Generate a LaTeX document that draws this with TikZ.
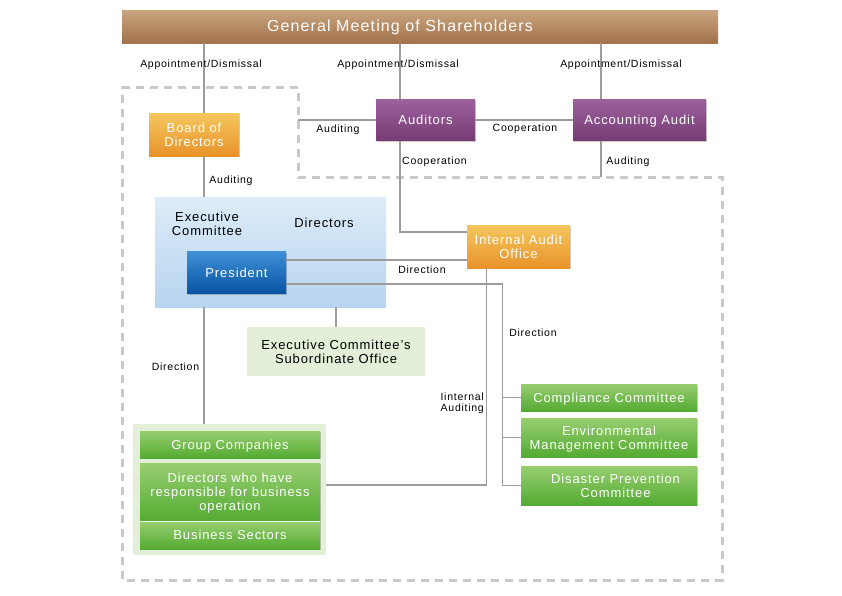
\documentclass[tikz,border=0pt]{standalone}
\usepackage{fontspec}
\setmainfont{Liberation Sans}[LetterSpace=7]
\usetikzlibrary{calc,positioning,shadows}

\definecolor{brownT}{HTML}{C9A47F}
\definecolor{brownB}{HTML}{A2734C}
\definecolor{orangeT}{HTML}{F4C75E}
\definecolor{orangeB}{HTML}{E8932A}
\definecolor{purpleT}{HTML}{9C619D}
\definecolor{purpleB}{HTML}{773C75}
\definecolor{skyT}{HTML}{DDECF9}
\definecolor{skyB}{HTML}{B7D4EE}
\definecolor{blueT}{HTML}{3F90D6}
\definecolor{blueB}{HTML}{0853A4}
\definecolor{greenT}{HTML}{97CE70}
\definecolor{greenB}{HTML}{54AB32}
\definecolor{paleGreen}{HTML}{E3EFD9}
\definecolor{lineGray}{HTML}{9C9C9C}
\definecolor{frameGray}{HTML}{C9C9C9}

\tikzset{
  chartbox/.style={inner sep=0pt, align=center, text=white, text depth=0pt, font=\fontsize{13}{14}\selectfont},
  shadowed/.style={drop shadow={shadow xshift=1.2pt, shadow yshift=-1.2pt, opacity=0.2, fill=black}},
  brownbox/.style={chartbox, top color=brownT, bottom color=brownB},
  orangebox/.style={chartbox, shadowed, top color=orangeT, bottom color=orangeB},
  purplebox/.style={chartbox, shadowed, top color=purpleT, bottom color=purpleB},
  bluebox/.style={chartbox, shadowed, top color=blueT, bottom color=blueB},
  greenbox/.style={chartbox, shadowed, top color=greenT, bottom color=greenB},
  palebox/.style={chartbox, fill=paleGreen, text=black},
  plaintext/.style={inner sep=0pt, align=center, font=\fontsize{13}{14}\selectfont},
  lbl/.style={inner sep=0pt, align=center, font=\fontsize{10.5}{11}\selectfont},
  conn/.style={draw=lineGray, line width=1.2pt},
  frame/.style={draw=frameGray, line width=3pt, dash pattern=on 8pt off 6pt},
}

\begin{document}
\begin{tikzpicture}[x=1pt, y=-1pt]
\useasboundingbox (0,0) rectangle (842,595);

% dashed frame
\draw [frame] (122,87) -- (298,87) -- (298,177) coordinate(notch) -- (722,177) -- (722,580) -- (122,580) -- cycle;

% top row
\node [brownbox, minimum width=596pt, minimum height=33pt] (gms) at (420,26.5) {};
\node [plaintext, text=white, font=\fontsize{16}{17}\selectfont] (gmstext) at (400,27.5) {General Meeting of Shareholders};
\node [orangebox, minimum width=90pt, minimum height=43pt] (board) at (194,134.5) {Board of\\Directors};
\node [purplebox, minimum width=99pt, minimum height=41pt] (auditors) at (425.5,120) {Auditors};
\node [purplebox, minimum width=133pt, minimum height=41pt] (accaudit) at (639.5,120) {Accounting Audit};

% executive committee
\node [chartbox, top color=skyT, bottom color=skyB, minimum width=231pt, minimum height=110pt] (exec) at (270.5,252) {};
\node [plaintext] (execname) at (207,224) {Executive\\Committee};
\node [plaintext] (directors) at (324,223) {Directors};
\node [bluebox, minimum width=99pt, minimum height=42pt] (president) at (236.5,272.5) {President};
\node [orangebox, minimum width=103pt, minimum height=43pt] (iao) at (518.5,246.5) {Internal Audit\\Office};
\node [palebox, minimum width=178pt, minimum height=49pt] (subord) at (336,351.5) {Executive Committee's\\Subordinate Office};

% group companies
\node [palebox, minimum width=193pt, minimum height=131pt] (groupbg) at (229.5,489.5) {};
\node [greenbox, minimum width=180pt, minimum height=27pt] (groupco) at (230,444.5) {Group Companies};
\node [greenbox, minimum width=180pt, minimum height=58pt] (dirresp) at (230,492) {Directors who have\\responsible for business\\operation};
\node [greenbox, minimum width=180pt, minimum height=28pt] (bizsec) at (230,535) {Business Sectors};
\draw [white!85!greenT, line width=0.8pt] (dirresp.south west) -- (dirresp.south east);

% committees
\node [greenbox, minimum width=176pt, minimum height=27pt] (compliance) at (609,397.5) {Compliance Committee};
\node [greenbox, minimum width=176pt, minimum height=39pt] (envmgmt) at (609,437.5) {Environmental\\Management Committee};
\node [greenbox, minimum width=176pt, minimum height=39pt] (disaster) at (609,485.5) {\hspace*{13pt}Disaster Prevention\\\hspace*{13pt}Committee};

% connectors
\draw [conn] ([xshift=10pt]board.north) -- ([xshift=10pt]board.north |- gms.south);
\draw [conn] ([xshift=-25.5pt]auditors.north) -- ([xshift=-25.5pt]auditors.north |- gms.south);
\draw [conn] ([xshift=-38.5pt]accaudit.north) -- ([xshift=-38.5pt]accaudit.north |- gms.south);
\draw [conn] (auditors.east) -- (accaudit.west);
\draw [conn] (auditors.west) -- (auditors.west -| notch);
\draw [conn] ([xshift=-38.5pt]accaudit.south) -- ([xshift=-38.5pt]accaudit.south |- notch);
\draw [conn] ([xshift=-25.5pt]auditors.south) |- ([yshift=14.5pt]iao.west);
\draw [conn] ([xshift=10pt]board.south) -- ([xshift=10pt]board.south |- exec.north);
\draw [conn] ([yshift=12.5pt]president.east) -- ([yshift=12.5pt]president.east -| iao.west);
\coordinate (bus) at ([xshift=-18.5pt]disaster.west);
\draw [conn] ([yshift=-11.5pt]president.east) -| (bus) -- (disaster.west);
\draw [conn] (compliance.west) -- (compliance.west -| bus);
\draw [conn] (envmgmt.west) -- (envmgmt.west -| bus);
\draw [conn] ([xshift=-32pt]iao.south) |- ([yshift=4.5pt]groupbg.east);
\draw [conn] (subord.north) -- (subord.north |- exec.south);
\draw [conn] ([xshift=-25.5pt]groupbg.north) -- ([xshift=-25.5pt]groupbg.north |- exec.south);

% labels
\node [lbl] (ad1) at (201,64.5) {Appointment/Dismissal};
\node [lbl] (ad2) at (398,64.5) {Appointment/Dismissal};
\node [lbl] (ad3) at (621,64.5) {Appointment/Dismissal};
\node [lbl] (aud1) at (338,129.5) {Auditing};
\node [lbl] (coop1) at (525,128.5) {Cooperation};
\node [lbl] (coop2) at (434.5,162) {Cooperation};
\node [lbl] (aud2) at (628,162) {Auditing};
\node [lbl] (aud3) at (231,180.5) {Auditing};
\node [lbl] (dir1) at (422,270) {Direction};
\node [lbl] (dir2) at (533,333) {Direction};
\node [lbl] (dir3) at (175.5,366.5) {Direction};
\node [lbl, align=right, anchor=east] (intaud) at (484,403) {Iinternal\\Auditing};
\end{tikzpicture}
\end{document}
